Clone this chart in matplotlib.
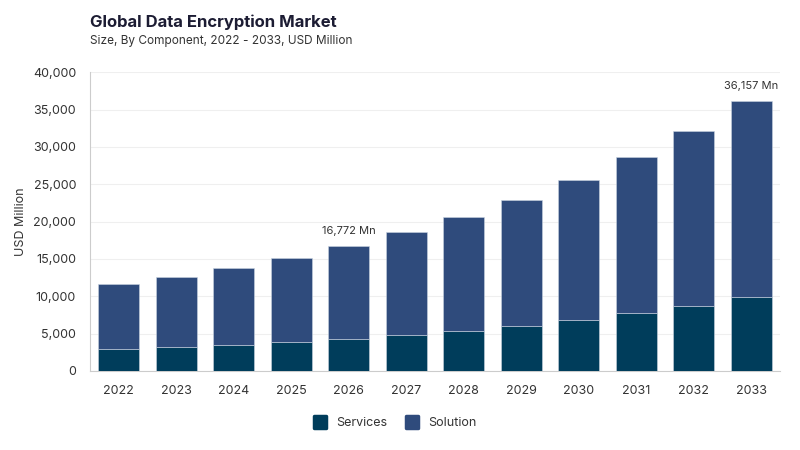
import matplotlib
matplotlib.use("Agg")
import matplotlib.pyplot as plt
from matplotlib.lines import Line2D
from matplotlib.markers import MarkerStyle
from matplotlib.ticker import FuncFormatter

plt.rcParams['font.family'] = ['Inter', 'DejaVu Sans']

years = ['2022', '2023', '2024', '2025', '2026', '2027',
         '2028', '2029', '2030', '2031', '2032', '2033']
services = [2900, 3170, 3520, 3840, 4320, 4860, 5390, 6060, 6860, 7800, 8740, 9940]
solution = [8770, 9440, 10250, 11310, 12452, 13680, 15200, 16840, 18720, 20810, 23390, 26217]
labelled = {'2026': '16,772 Mn', '2033': '36,157 Mn'}

c_services = '#003d5b'
c_solution = '#2f4b7c'
text_dark = '#333333'

fig = plt.figure(figsize=(8, 4.5), dpi=100)
ax = fig.add_axes([0.1125, 0.1756, 0.8625, 0.664])

x = range(len(years))
ax.bar(x, services, width=0.71, color=c_services, edgecolor='#c9d3e0', linewidth=0.4, zorder=3)
ax.bar(x, solution, width=0.71, bottom=services, color=c_solution,
       edgecolor='#c9d3e0', linewidth=0.4, zorder=3)

for i, yr in enumerate(years):
    if yr in labelled:
        ax.annotate(labelled[yr], (i, services[i] + solution[i]), xytext=(0, 7),
                    textcoords='offset points', ha='center', va='bottom',
                    fontsize=8, color=text_dark)

ax.set_xlim(-0.5, 11.5)
ax.set_ylim(0, 40000)
ax.set_yticks(range(0, 40001, 5000))
ax.yaxis.set_major_formatter(FuncFormatter(lambda v, p: f'{int(v):,}'))
ax.set_xticks(list(x))
ax.set_xticklabels(years)
ax.tick_params(axis='both', length=0, labelsize=9, colors=text_dark)
ax.tick_params(axis='x', pad=10)
ax.tick_params(axis='y', pad=10)
ax.grid(axis='y', color='#efefef', linewidth=0.8, zorder=0)
ax.set_axisbelow(True)
for s in ['top', 'right']:
    ax.spines[s].set_visible(False)
ax.spines['left'].set_color('#cccccc')
ax.spines['bottom'].set_color('#cccccc')
ax.set_ylabel('USD Million', fontsize=9, color=text_dark, labelpad=4)

fig.text(90 / 800, 1 - 22 / 450, 'Global Data Encryption Market', fontsize=12,
         fontweight='bold', color='#1c1c33', va='center', ha='left')
fig.text(90 / 800, 1 - 41 / 450, 'Size, By Component, 2022 - 2033, USD Million',
         fontsize=8.5, color=text_dark, va='center', ha='left')

mk = MarkerStyle('s', joinstyle='round')
handles = [Line2D([], [], linestyle='none', marker=mk, markersize=9, markerfacecolor=c,
                  markeredgecolor=c, markeredgewidth=2.5) for c in (c_services, c_solution)]
fig.legend(handles, ['Services', 'Solution'], loc='center', bbox_to_anchor=(0.49, 1 - 423 / 450),
           ncol=2, frameon=False, fontsize=9, handletextpad=0.3, columnspacing=1.0,
           labelcolor=text_dark)

fig.savefig('out.png', dpi=100)
